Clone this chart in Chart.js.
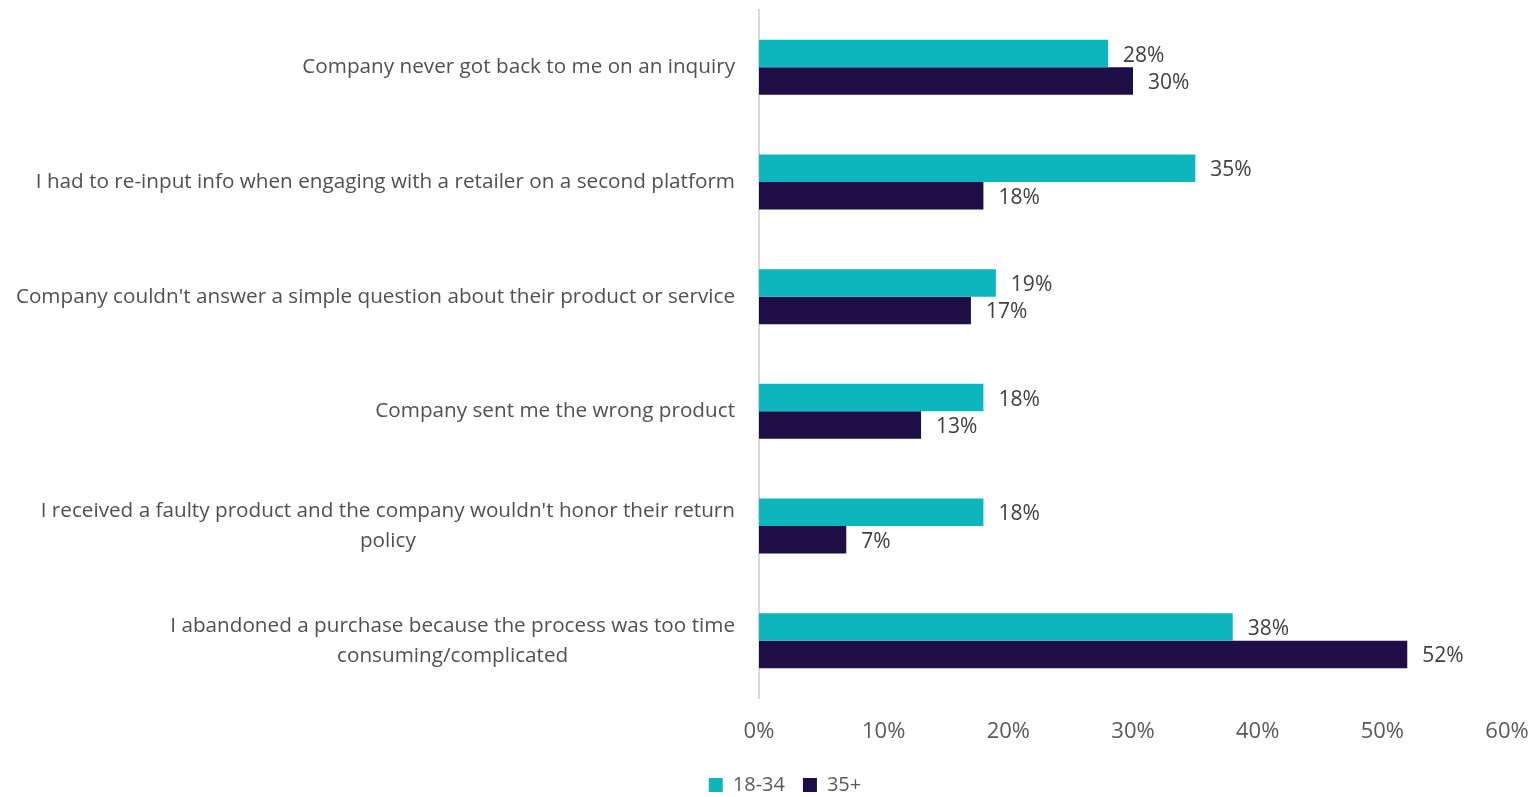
<!DOCTYPE html>
<html>
<head>
<meta charset="utf-8">
<script src="https://cdn.jsdelivr.net/npm/chart.js@4.4.1/dist/chart.umd.min.js"></script>
<style>
    html, body { margin: 0; padding: 0; background: #fff; }
    #wrap { width: 1532px; height: 797px; position: relative; }
</style>
</head>
<body>
<div id="wrap"><canvas id="frictionChart"></canvas></div>
<script>
// Category labels (arrays = wrapped lines)
const categories = [
    'Company never got back to me on an inquiry',
    'I had to re-input info when engaging with a retailer on a second platform',
    "Company couldn't answer a simple question about their product or service",
    'Company sent me the wrong product',
    ["I received a faulty product and the company wouldn't honor their return", 'policy'],
    ['I abandoned a purchase because the process was too time', 'consuming/complicated']
];
const seriesNames = ['18-34', '35+'];
const values1834 = [28, 35, 19, 18, 18, 38];
const values35plus = [30, 18, 17, 13, 7, 52];
const xMax = 60;
const xStep = 10;

const FONT = "'Open Sans', 'Noto Sans', sans-serif";
const TEXT = '#505050';
const LEFT_PAD = 63;

// value labels to the right of each bar
const valueLabels = {
    id: 'valueLabels',
    afterDatasetsDraw(chart) {
        const ctx = chart.ctx;
        ctx.save();
        ctx.font = '21px ' + FONT;
        ctx.fillStyle = '#404040';
        ctx.textAlign = 'left';
        ctx.textBaseline = 'middle';
        chart.data.datasets.forEach((ds, di) => {
            chart.getDatasetMeta(di).data.forEach((bar, i) => {
                ctx.fillText(ds.data[i] + '%', bar.x + 15, bar.y + 2);
            });
        });
        ctx.restore();
    }
};

// category labels: block right-aligned to the axis, lines centred within the block
const categoryLabels = {
    id: 'categoryLabels',
    afterDraw(chart) {
        const ctx = chart.ctx;
        const y = chart.scales.y;
        ctx.save();
        ctx.font = '20.7px ' + FONT;
        ctx.fillStyle = TEXT;
        ctx.textAlign = 'center';
        ctx.textBaseline = 'middle';
        const right = y.right - 24;
        categories.forEach((label, i) => {
            const lines = Array.isArray(label) ? label : [label];
            const w = Math.max(...lines.map(l => ctx.measureText(l).width));
            const cy = y.getPixelForValue(i);
            lines.forEach((line, j) => {
                ctx.fillText(line, right - w / 2, cy + (j - (lines.length - 1) / 2) * 30);
            });
        });
        ctx.restore();
    }
};

new Chart(document.getElementById('frictionChart'), {
    type: 'bar',
    data: {
        labels: categories,
        datasets: [
            {
                label: seriesNames[0],
                data: values1834,
                backgroundColor: '#0DB5BD',
                categoryPercentage: 0.48,
                barPercentage: 1
            },
            {
                label: seriesNames[1],
                data: values35plus,
                backgroundColor: '#1E0E45',
                categoryPercentage: 0.48,
                barPercentage: 1
            }
        ]
    },
    options: {
        indexAxis: 'y',
        responsive: true,
        maintainAspectRatio: false,
        animation: false,
        layout: { padding: { top: 10, right: 25, left: LEFT_PAD, bottom: -8 } },
        plugins: {
            legend: {
                position: 'bottom',
                labels: {
                    boxWidth: 14,
                    boxHeight: 14,
                    padding: 18,
                    color: '#595959',
                    font: { family: FONT, size: 20 }
                }
            },
            tooltip: { enabled: false }
        },
        scales: {
            x: {
                min: 0,
                max: xMax,
                ticks: {
                    stepSize: xStep,
                    padding: 21,
                    color: '#595959',
                    font: { family: FONT, size: 22 },
                    callback: v => v + '%'
                },
                grid: { display: false, drawTicks: false },
                border: { display: false },
                afterFit: s => {
                    s.height = 59;
                    s.paddingLeft = 0;
                    s.paddingRight = 0;
                }
            },
            y: {
                ticks: { display: false },
                grid: { display: false, drawTicks: false },
                border: { display: true, color: '#D9D9D9', width: 2 },
                afterFit: s => { s.width = 759 - LEFT_PAD; }
            }
        }
    },
    plugins: [valueLabels, categoryLabels]
});
</script>
</body>
</html>
